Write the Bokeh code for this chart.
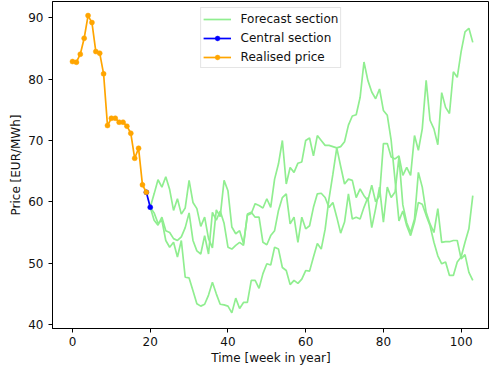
from bokeh.plotting import figure
from bokeh.models import Range1d, FixedTicker, Legend, LegendItem
from bokeh.embed import file_html
from bokeh.resources import INLINE

# ---- data ----
realised_weeks = list(range(0, 20))
realised_price = [82.87, 82.76, 84.07, 86.67, 90.37, 89.23, 84.5, 84.23, 80.87, 72.44,
                  73.63, 73.63, 72.98, 72.98, 72.33, 71.18, 67.1, 68.74, 62.77, 61.56]

central_weeks = [19, 20]
central_price = [61.56, 59.12]

forecast_start = 20
forecast_a = [59.1, 61.3, 63.6, 62.4, 64.1, 62.0, 58.6, 60.5, 58.0, 59.0,
              63.5, 59.9, 58.9, 56.0, 57.5, 54.0, 52.5, 58.7, 57.6, 63.5,
              61.8, 55.9, 54.8, 55.3, 53.2, 57.8, 58.1, 59.7, 59.4, 59.0,
              60.5, 59.1, 63.7, 66.2, 70.0, 62.9, 65.6, 64.8, 66.3, 66.5,
              70.0, 70.4, 67.5, 70.8, 70.0, 69.2, 69.2, 69.0, 68.8, 69.0,
              69.8, 72.5, 74.0, 74.2, 77.0, 82.8, 79.8, 77.9, 76.8, 78.4,
              74.9, 74.1, 70.0, 63.5, 56.9, 58.5, 56.1, 54.5, 56.7, 59.9,
              59.6, 57.8, 56.1, 53.4, 51.2, 49.9, 50.2, 48.0, 48.0, 50.2,
              51.0, 53.4, 55.6, 61.0]
forecast_b = [59.1, 58.2, 56.5, 57.0, 53.7, 52.6, 53.4, 51.0, 53.7, 47.7,
              47.6, 45.5, 43.4, 43.0, 43.3, 44.8, 46.9, 45.0, 43.3, 43.2,
              43.0, 41.9, 44.3, 42.6, 43.6, 43.6, 47.2, 47.2, 45.9, 48.3,
              49.9, 49.7, 52.6, 52.3, 49.3, 48.8, 46.5, 47.2, 46.7, 47.4,
              48.8, 48.7, 51.0, 53.2, 52.3, 55.5, 60.5, 64.5, 68.8, 65.8,
              62.9, 63.7, 63.5, 60.7, 62.1, 61.0, 60.2, 62.7, 60.0, 61.0,
              69.5, 69.5, 67.3, 67.0, 67.5, 64.3, 65.6, 64.3, 70.8, 68.4,
              71.9, 79.8, 73.3, 71.9, 69.3, 77.8, 75.4, 74.4, 81.2, 80.3,
              84.5, 87.7, 88.3, 86.0]
forecast_c = [59.1, 57.0, 56.2, 57.5, 55.3, 55.0, 54.0, 53.7, 54.3, 55.8,
              58.2, 53.7, 52.0, 51.5, 54.5, 51.5, 58.3, 57.0, 58.5, 56.5,
              52.6, 52.3, 52.9, 53.4, 52.9, 58.0, 58.3, 57.5, 57.5, 53.4,
              53.0, 54.5, 55.3, 58.6, 60.7, 61.3, 56.4, 57.5, 53.4, 57.5,
              55.6, 56.1, 59.1, 61.3, 61.4, 60.7, 59.1, 59.9, 57.5, 54.9,
              56.7, 61.3, 57.2, 57.5, 57.2, 59.1, 60.7, 55.8, 58.9, 62.4,
              56.7, 62.4, 60.7, 61.6, 67.3, 59.5, 56.6, 55.0, 57.2, 64.8,
              62.4, 58.3, 56.4, 55.0, 58.9, 53.4, 53.5, 53.5, 53.7, 53.7,
              50.7, 51.4, 48.5, 47.2]
forecasts = [forecast_a, forecast_b, forecast_c]

x_ticks = [0, 20, 40, 60, 80, 100]
y_ticks = [40, 50, 60, 70, 80, 90]

FONT = "DejaVu Sans"
FS = "12px"

p = figure(width=489, height=376, output_backend="svg", toolbar_location=None,
           x_range=Range1d(-5.15, 107.3), y_range=Range1d(39.35, 92.66),
           min_border_left=52, min_border_right=0, min_border_top=1, min_border_bottom=48)

p.xgrid.visible = False
p.ygrid.visible = False
p.background_fill_color = "white"
p.border_fill_color = "white"
p.outline_line_color = "black"
p.outline_line_width = 1

for ax, ticks in ((p.xaxis[0], x_ticks), (p.yaxis[0], y_ticks)):
    ax.ticker = FixedTicker(ticks=ticks)
    ax.minor_tick_line_color = None
    ax.major_tick_in = 0
    ax.major_tick_out = 4
    ax.major_tick_line_color = "black"
    ax.axis_line_color = "black"
    ax.major_label_text_font = FONT
    ax.major_label_text_font_size = FS
    ax.major_label_text_color = "#111111"
    ax.axis_label_text_font = FONT
    ax.axis_label_text_font_size = FS
    ax.axis_label_text_font_style = "normal"
    ax.axis_label_text_color = "#111111"

p.xaxis.axis_label = "Time [week in year]"
p.xaxis.major_label_standoff = 4
p.xaxis.axis_label_standoff = 2
p.yaxis.axis_label = "Price [EUR/MWh]"
p.yaxis.major_label_standoff = 5
p.yaxis.axis_label_standoff = 2

green = "#90ee90"
f_renderers = []
for vals in forecasts:
    weeks = list(range(forecast_start, forecast_start + len(vals)))
    f_renderers.append(p.line(weeks, vals, line_color=green, line_width=1.7))

c_line = p.line(central_weeks, central_price, line_color="blue", line_width=1.7)
c_pts = p.scatter(central_weeks, central_price, size=5, fill_color="blue", line_color="blue",
                  line_width=0.5)

r_line = p.line(realised_weeks, realised_price, line_color="orange", line_width=1.7)
r_pts = p.scatter(realised_weeks, realised_price, size=5, fill_color="orange", line_color="orange",
                  line_width=0.5)

legend = Legend(items=[
    LegendItem(label="Forecast section", renderers=[f_renderers[0]]),
    LegendItem(label="Central section", renderers=[c_line, c_pts]),
    LegendItem(label="Realised price", renderers=[r_line, r_pts]),
], location="top_center")
legend.label_text_font = FONT
legend.label_text_font_size = FS
legend.label_text_color = "#111111"
legend.glyph_width = 28
legend.glyph_height = 12
legend.label_height = 17
legend.label_standoff = 10
legend.padding = 2
legend.spacing = 2
legend.margin = 6
legend.border_line_color = "#cccccc"
legend.border_line_width = 1
legend.background_fill_color = "white"
legend.background_fill_alpha = 0.8
p.add_layout(legend)

open("out.html", "w").write(file_html(p, INLINE))
